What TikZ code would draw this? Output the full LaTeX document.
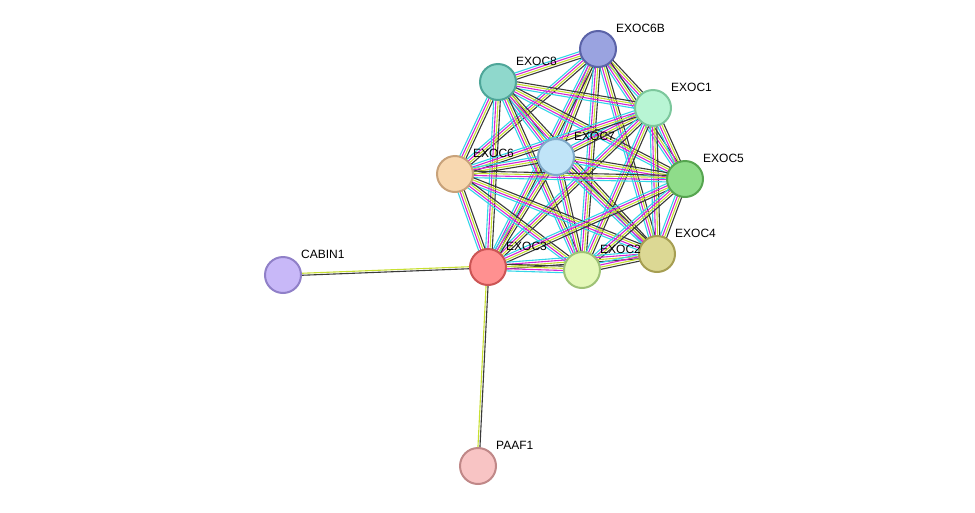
\documentclass[tikz,border=0pt]{standalone}
\usepackage{fontspec}
\setmainfont{Liberation Sans}
\usetikzlibrary{calc}
\definecolor{ecyan}{HTML}{33D6E8}
\definecolor{emag}{HTML}{D428D4}
\definecolor{eyel}{HTML}{C8E032}
\definecolor{eblk}{HTML}{3A3A3A}
\definecolor{eblue}{HTML}{5A6AE0}
\newcommand\bund[3]{\foreach \cc/\oo in {#3}{\draw[line width=1.1pt,\cc] ($(#1)!\oo pt!90:(#2)$) -- ($(#2)!\oo pt!-90:(#1)$);}}
\tikzset{prot/.style={circle,draw,line width=2pt,minimum size=36pt,inner sep=0pt},
 lab/.style={anchor=west,font=\fontsize{12}{14}\selectfont,inner sep=0pt}}
\begin{document}
\begin{tikzpicture}[x=1pt,y=-1pt]
\useasboundingbox (0,0) rectangle (975,512);
\coordinate (E6B) at (598,49);
\coordinate (E8) at (498,82);
\coordinate (E1) at (653,108);
\coordinate (E7) at (556,157);
\coordinate (E6) at (455,174);
\coordinate (E5) at (685,179);
\coordinate (E4) at (657,254);
\coordinate (E3) at (488,267);
\coordinate (E2) at (582,270);
\coordinate (CB) at (283,275);
\coordinate (PA) at (478,466);
\foreach \a/\b in {E6B/E8,E6B/E1,E6B/E7,E6B/E6,E6B/E5,E6B/E4,E6B/E3,E6B/E2,
 E8/E1,E8/E7,E8/E6,E8/E5,E8/E4,E8/E3,E8/E2,
 E1/E7,E1/E6,E1/E5,E1/E4,E1/E3,E1/E2,
 E7/E6,E7/E5,E7/E4,E7/E3,E7/E2,
 E6/E5,E6/E4,E6/E3,E6/E2,
 E5/E4,E5/E3,E5/E2,E4/E3,E4/E2,E3/E2}
 {\bund{\a}{\b}{ecyan/-3.3,emag/-1.1,eyel/1.1,eblk/3.3}}
\bund{E3}{CB}{eyel/-1,eblk/1}
\bund{E3}{PA}{eyel/-1,eblk/1}
\node[prot,fill={rgb,255:red,154;green,163;blue,224},draw={rgb,255:red,91;green,99;blue,168}] (n6b) at (E6B) {};
\node[prot,fill={rgb,255:red,143;green,216;blue,204},draw={rgb,255:red,78;green,166;blue,153}] (n8) at (E8) {};
\node[prot,fill={rgb,255:red,184;green,245;blue,212},draw={rgb,255:red,124;green,199;blue,156}] (n1) at (E1) {};
\node[prot,fill={rgb,255:red,192;green,228;blue,248},draw={rgb,255:red,127;green,169;blue,201}] (n7) at (E7) {};
\node[prot,fill={rgb,255:red,248;green,216;blue,176},draw={rgb,255:red,200;green,162;blue,122}] (n6) at (E6) {};
\node[prot,fill={rgb,255:red,143;green,220;blue,138},draw={rgb,255:red,86;green,165;blue,80}] (n5) at (E5) {};
\node[prot,fill={rgb,255:red,220;green,216;blue,148},draw={rgb,255:red,166;green,158;blue,82}] (n4) at (E4) {};
\node[prot,fill={rgb,255:red,255;green,144;blue,144},draw={rgb,255:red,204;green,85;blue,85}] (n3) at (E3) {};
\node[prot,fill={rgb,255:red,228;green,248;blue,184},draw={rgb,255:red,158;green,194;blue,118}] (n2) at (E2) {};
\node[prot,fill={rgb,255:red,200;green,184;blue,248},draw={rgb,255:red,144;green,128;blue,200}] (ncb) at (CB) {};
\node[prot,fill={rgb,255:red,248;green,196;blue,196},draw={rgb,255:red,192;green,136;blue,136}] (npa) at (PA) {};
\node[lab] at ($(E6B)+(18,-21)$) {EXOC6B};
\node[lab] at ($(E8)+(18,-21)$) {EXOC8};
\node[lab] at ($(E1)+(18,-21)$) {EXOC1};
\node[lab] at ($(E7)+(18,-21)$) {EXOC7};
\node[lab] at ($(E6)+(18,-21)$) {EXOC6};
\node[lab] at ($(E5)+(18,-21)$) {EXOC5};
\node[lab] at ($(E4)+(18,-21)$) {EXOC4};
\node[lab] at ($(E3)+(18,-21)$) {EXOC3};
\node[lab] at ($(E2)+(18,-21)$) {EXOC2};
\node[lab] at ($(CB)+(18,-21)$) {CABIN1};
\node[lab] at ($(PA)+(18,-21)$) {PAAF1};
\end{tikzpicture}
\end{document}
